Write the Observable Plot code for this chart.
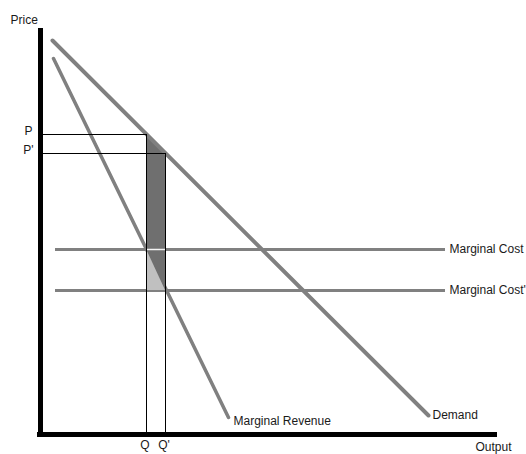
<!DOCTYPE html>
<html>
<head>
<meta charset="utf-8">
<script src="https://cdn.jsdelivr.net/npm/d3@7"></script>
<script src="https://cdn.jsdelivr.net/npm/@observablehq/plot@0.6"></script>
<style>
  html, body { margin: 0; padding: 0; background: #fff; }
  #chart svg { display: block; }
</style>
</head>
<body>
<div id="chart"></div>
<script>
// Curves (output, price)
const demandQ = [12, 388];
const demandP = [394, 19];
const mrQ = [13, 188];
const mrP = [376, 17];
// Marginal cost levels
const mcLabels = ["Marginal Cost", "Marginal Cost'"];
const mcLevels = [185, 144];
const mcStart = 15, mcEnd = 405;
// Equilibria
const qLabels = ["Q", "Q'"];
const qValues = [106, 125];
const pLabels = ["P", "P'"];
const pValues = [300, 281];

const demand = demandQ.map((q, i) => ({q, p: demandP[i]}));
const mr = mrQ.map((q, i) => ({q, p: mrP[i]}));
const mcs = mcLevels.map((p, i) => ({p, label: mcLabels[i]}));
const eq = qValues.map((q, i) => ({q, p: pValues[i], ql: qLabels[i], pl: pLabels[i]}));
const dark = [
  {q: qValues[0], lo: mcLevels[0], hi: pValues[0]},
  {q: qValues[1], lo: mcLevels[1], hi: pValues[1]}
];
const light = [
  {q: qValues[0], lo: mcLevels[1], hi: mcLevels[0]},
  {q: qValues[1], lo: mcLevels[1], hi: mcLevels[1]}
];

const gray = "#808080";
const font = "Liberation Sans, Arial, sans-serif";

const chart = Plot.plot({
  width: 526,
  height: 454,
  marginLeft: 40,
  marginRight: 26,
  marginTop: 32,
  marginBottom: 20,
  x: {domain: [0, 460], axis: null},
  y: {domain: [0, 402], axis: null},
  style: {fontFamily: font, fontSize: "12px", color: "#1a1a1a", background: "#fff"},
  marks: [
    Plot.ruleY(mcs, {y: "p", x1: mcStart, x2: mcEnd, stroke: gray, strokeWidth: 3}),
    Plot.line(mr, {x: "q", y: "p", stroke: gray, strokeWidth: 3.5}),
    Plot.areaY(dark, {x: "q", y1: "lo", y2: "hi", fill: "#6f6f6f", curve: "linear"}),
    Plot.areaY(light, {x: "q", y1: "lo", y2: "hi", fill: "#c0c0c0", curve: "linear"}),
    Plot.line(demand, {x: "q", y: "p", stroke: gray, strokeWidth: 4}),
    Plot.ruleY([mcLevels[0]], {x1: qValues[0], x2: qValues[1], stroke: "#f4f4f4", strokeWidth: 1.5}),
    // price & quantity guides
    Plot.ruleY(eq, {y: "p", x1: 0, x2: "q", stroke: "#000", strokeWidth: 1}),
    Plot.ruleX(eq, {x: "q", y1: 0, y2: "p", stroke: "#000", strokeWidth: 1}),
    // axes
    Plot.ruleX([0], {y1: -2, y2: 406, stroke: "#000", strokeWidth: 5}),
    Plot.ruleY([0], {x1: -3, x2: 457, stroke: "#000", strokeWidth: 5}),
    // labels
    Plot.text(eq, {x: -12, y: "p", text: "pl", dy: -3, textAnchor: "middle"}),
    Plot.text(eq, {x: "q", y: -11, text: "ql", dx: -1.5, textAnchor: "middle"}),
    Plot.text(mcs, {x: mcEnd + 4, y: "p", text: "label", textAnchor: "start"}),
    Plot.text(["Demand"], {x: demandQ[1] + 4, y: 19, text: d => d, textAnchor: "start"}),
    Plot.text(["Marginal Revenue"], {x: mrQ[1] + 5, y: 13, text: d => d, textAnchor: "start"}),
    Plot.text(["Output"], {x: 435, y: -13, text: d => d, textAnchor: "start"}),
    Plot.text(["Price"], {x: -30, y: 414, text: d => d, textAnchor: "start"})
  ]
});
document.getElementById("chart").append(chart);
</script>
</body>
</html>
